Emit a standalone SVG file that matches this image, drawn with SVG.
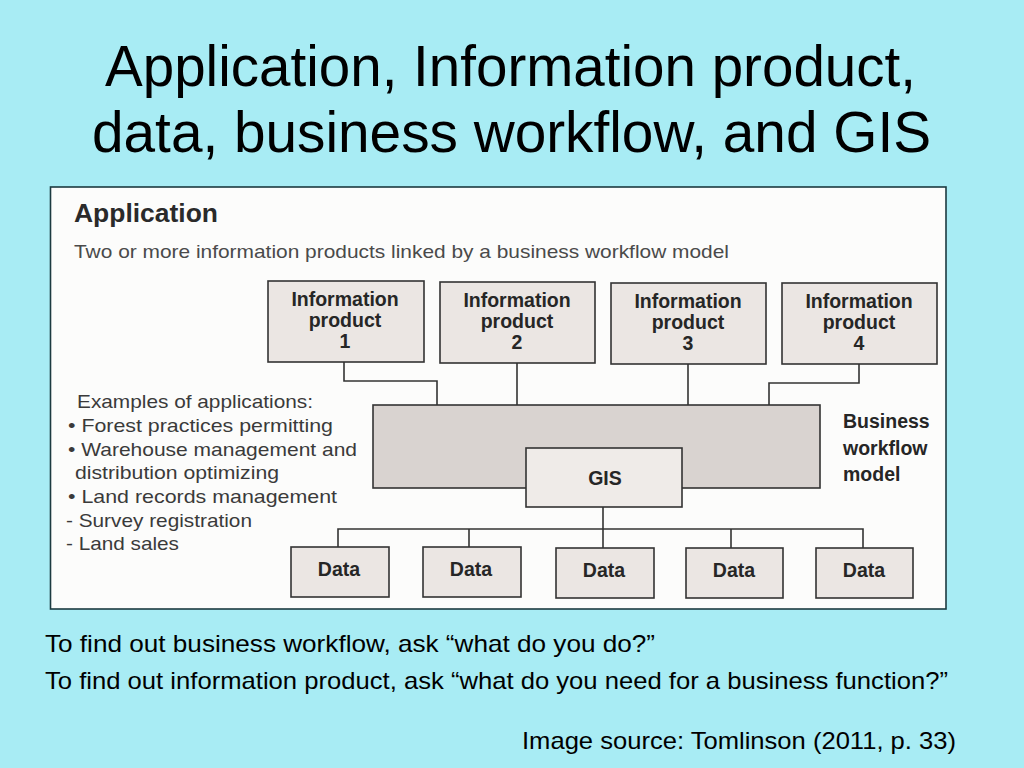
<svg xmlns="http://www.w3.org/2000/svg" width="1024" height="768" viewBox="0 0 1024 768">
<style>
  .title { font-family: "Liberation Sans", Arial, sans-serif; font-size: 58px; fill: #000; }
  .note { font-family: "Liberation Sans", Arial, sans-serif; font-size: 24px; fill: #000; }
  .head { font-family: "Liberation Sans", Arial, sans-serif; font-size: 25px; font-weight: bold; fill: #2a2a2a; }
  .sub { font-family: "Liberation Sans", Arial, sans-serif; font-size: 19px; fill: #4a4a4a; }
  .list { font-family: "Liberation Sans", Arial, sans-serif; font-size: 19px; fill: #3a3a3a; }
  .lbl { font-family: "Liberation Sans", Arial, sans-serif; font-size: 19.5px; font-weight: bold; fill: #262626; text-anchor: middle; }
  .side { font-family: "Liberation Sans", Arial, sans-serif; font-size: 19.5px; font-weight: bold; fill: #262626; }
  .box { fill: #ebe6e3; stroke: #333; stroke-width: 1.6; }
  .wf { fill: #d9d3d0; stroke: #333; stroke-width: 1.6; }
  .gis { fill: #efebe8; stroke: #333; stroke-width: 1.6; }
  .conn { fill: none; stroke: #333; stroke-width: 1.6; }
</style>
<rect x="0" y="0" width="1024" height="768" fill="#a8ecf4"/>

<text class="title" x="105" y="86" textLength="811" lengthAdjust="spacingAndGlyphs">Application, Information product,</text>
<text class="title" x="92" y="152" textLength="839" lengthAdjust="spacingAndGlyphs">data, business workflow, and GIS</text>

<rect x="50.5" y="187" width="895.5" height="422" fill="#fcfcfb" stroke="#1c3a40" stroke-width="1.6"/>

<text class="head" x="74" y="222" textLength="144" lengthAdjust="spacingAndGlyphs">Application</text>
<text class="sub" x="74" y="258" textLength="655" lengthAdjust="spacingAndGlyphs">Two or more information products linked by a business workflow model</text>

<g id="connectors">
  <polyline class="conn" points="344,362 344,381 437,381 437,405"/>
  <line class="conn" x1="517" y1="363" x2="517" y2="406"/>
  <line class="conn" x1="688" y1="364" x2="688" y2="406"/>
  <polyline class="conn" points="859,364 859,383 769,383 769,407"/>
  <line class="conn" x1="603" y1="507" x2="603" y2="548"/>
  <polyline class="conn" points="338,547 338,529 863,529 863,548"/>
  <line class="conn" x1="469" y1="529" x2="469" y2="547"/>
  <line class="conn" x1="731" y1="529" x2="731" y2="548"/>
</g>

<g id="ip1">
  <rect class="box" x="268" y="281" width="156" height="81"/>
  <text class="lbl" x="345" y="306">Information</text>
  <text class="lbl" x="345" y="327">product</text>
  <text class="lbl" x="345" y="348">1</text>
</g>
<g id="ip2">
  <rect class="box" x="440" y="282" width="155" height="81"/>
  <text class="lbl" x="517" y="307">Information</text>
  <text class="lbl" x="517" y="328">product</text>
  <text class="lbl" x="517" y="349">2</text>
</g>
<g id="ip3">
  <rect class="box" x="611" y="283" width="155" height="81"/>
  <text class="lbl" x="688" y="308">Information</text>
  <text class="lbl" x="688" y="329">product</text>
  <text class="lbl" x="688" y="350">3</text>
</g>
<g id="ip4">
  <rect class="box" x="782" y="283" width="155" height="81"/>
  <text class="lbl" x="859" y="308">Information</text>
  <text class="lbl" x="859" y="329">product</text>
  <text class="lbl" x="859" y="350">4</text>
</g>

<g id="workflow">
  <rect class="wf" x="373" y="405" width="447" height="83"/>
  <text class="side" x="843" y="428">Business</text>
  <text class="side" x="843" y="455">workflow</text>
  <text class="side" x="843" y="481">model</text>
</g>

<g id="gis">
  <rect class="gis" x="526" y="448" width="156" height="59"/>
  <text class="lbl" x="605" y="485">GIS</text>
</g>

<g id="data1">
  <rect class="box" x="291" y="547" width="98" height="50"/>
  <text class="lbl" x="339" y="576">Data</text>
</g>
<g id="data2">
  <rect class="box" x="423" y="547" width="98" height="50"/>
  <text class="lbl" x="471" y="576">Data</text>
</g>
<g id="data3">
  <rect class="box" x="556" y="548" width="98" height="50"/>
  <text class="lbl" x="604" y="577">Data</text>
</g>
<g id="data4">
  <rect class="box" x="686" y="548" width="97" height="50"/>
  <text class="lbl" x="734" y="577">Data</text>
</g>
<g id="data5">
  <rect class="box" x="816" y="548" width="97" height="50"/>
  <text class="lbl" x="864" y="577">Data</text>
</g>

<g id="examples">
  <text class="list" x="77" y="408" textLength="236" lengthAdjust="spacingAndGlyphs">Examples of applications:</text>
  <text class="list" x="68" y="432" textLength="265" lengthAdjust="spacingAndGlyphs">• Forest practices permitting</text>
  <text class="list" x="68" y="456" textLength="289" lengthAdjust="spacingAndGlyphs">• Warehouse management and</text>
  <text class="list" x="75" y="479" textLength="204" lengthAdjust="spacingAndGlyphs">distribution optimizing</text>
  <text class="list" x="68" y="503" textLength="269" lengthAdjust="spacingAndGlyphs">• Land records management</text>
  <text class="list" x="66" y="527" textLength="186" lengthAdjust="spacingAndGlyphs">- Survey registration</text>
  <text class="list" x="66" y="550" textLength="113" lengthAdjust="spacingAndGlyphs">- Land sales</text>
</g>

<text class="note" x="45" y="652" textLength="610" lengthAdjust="spacingAndGlyphs">To find out business workflow, ask “what do you do?”</text>
<text class="note" x="45" y="689" textLength="903" lengthAdjust="spacingAndGlyphs">To find out information product, ask “what do you need for a business function?”</text>
<text class="note" x="522" y="749" textLength="434" lengthAdjust="spacingAndGlyphs">Image source: Tomlinson (2011, p. 33)</text>
</svg>
